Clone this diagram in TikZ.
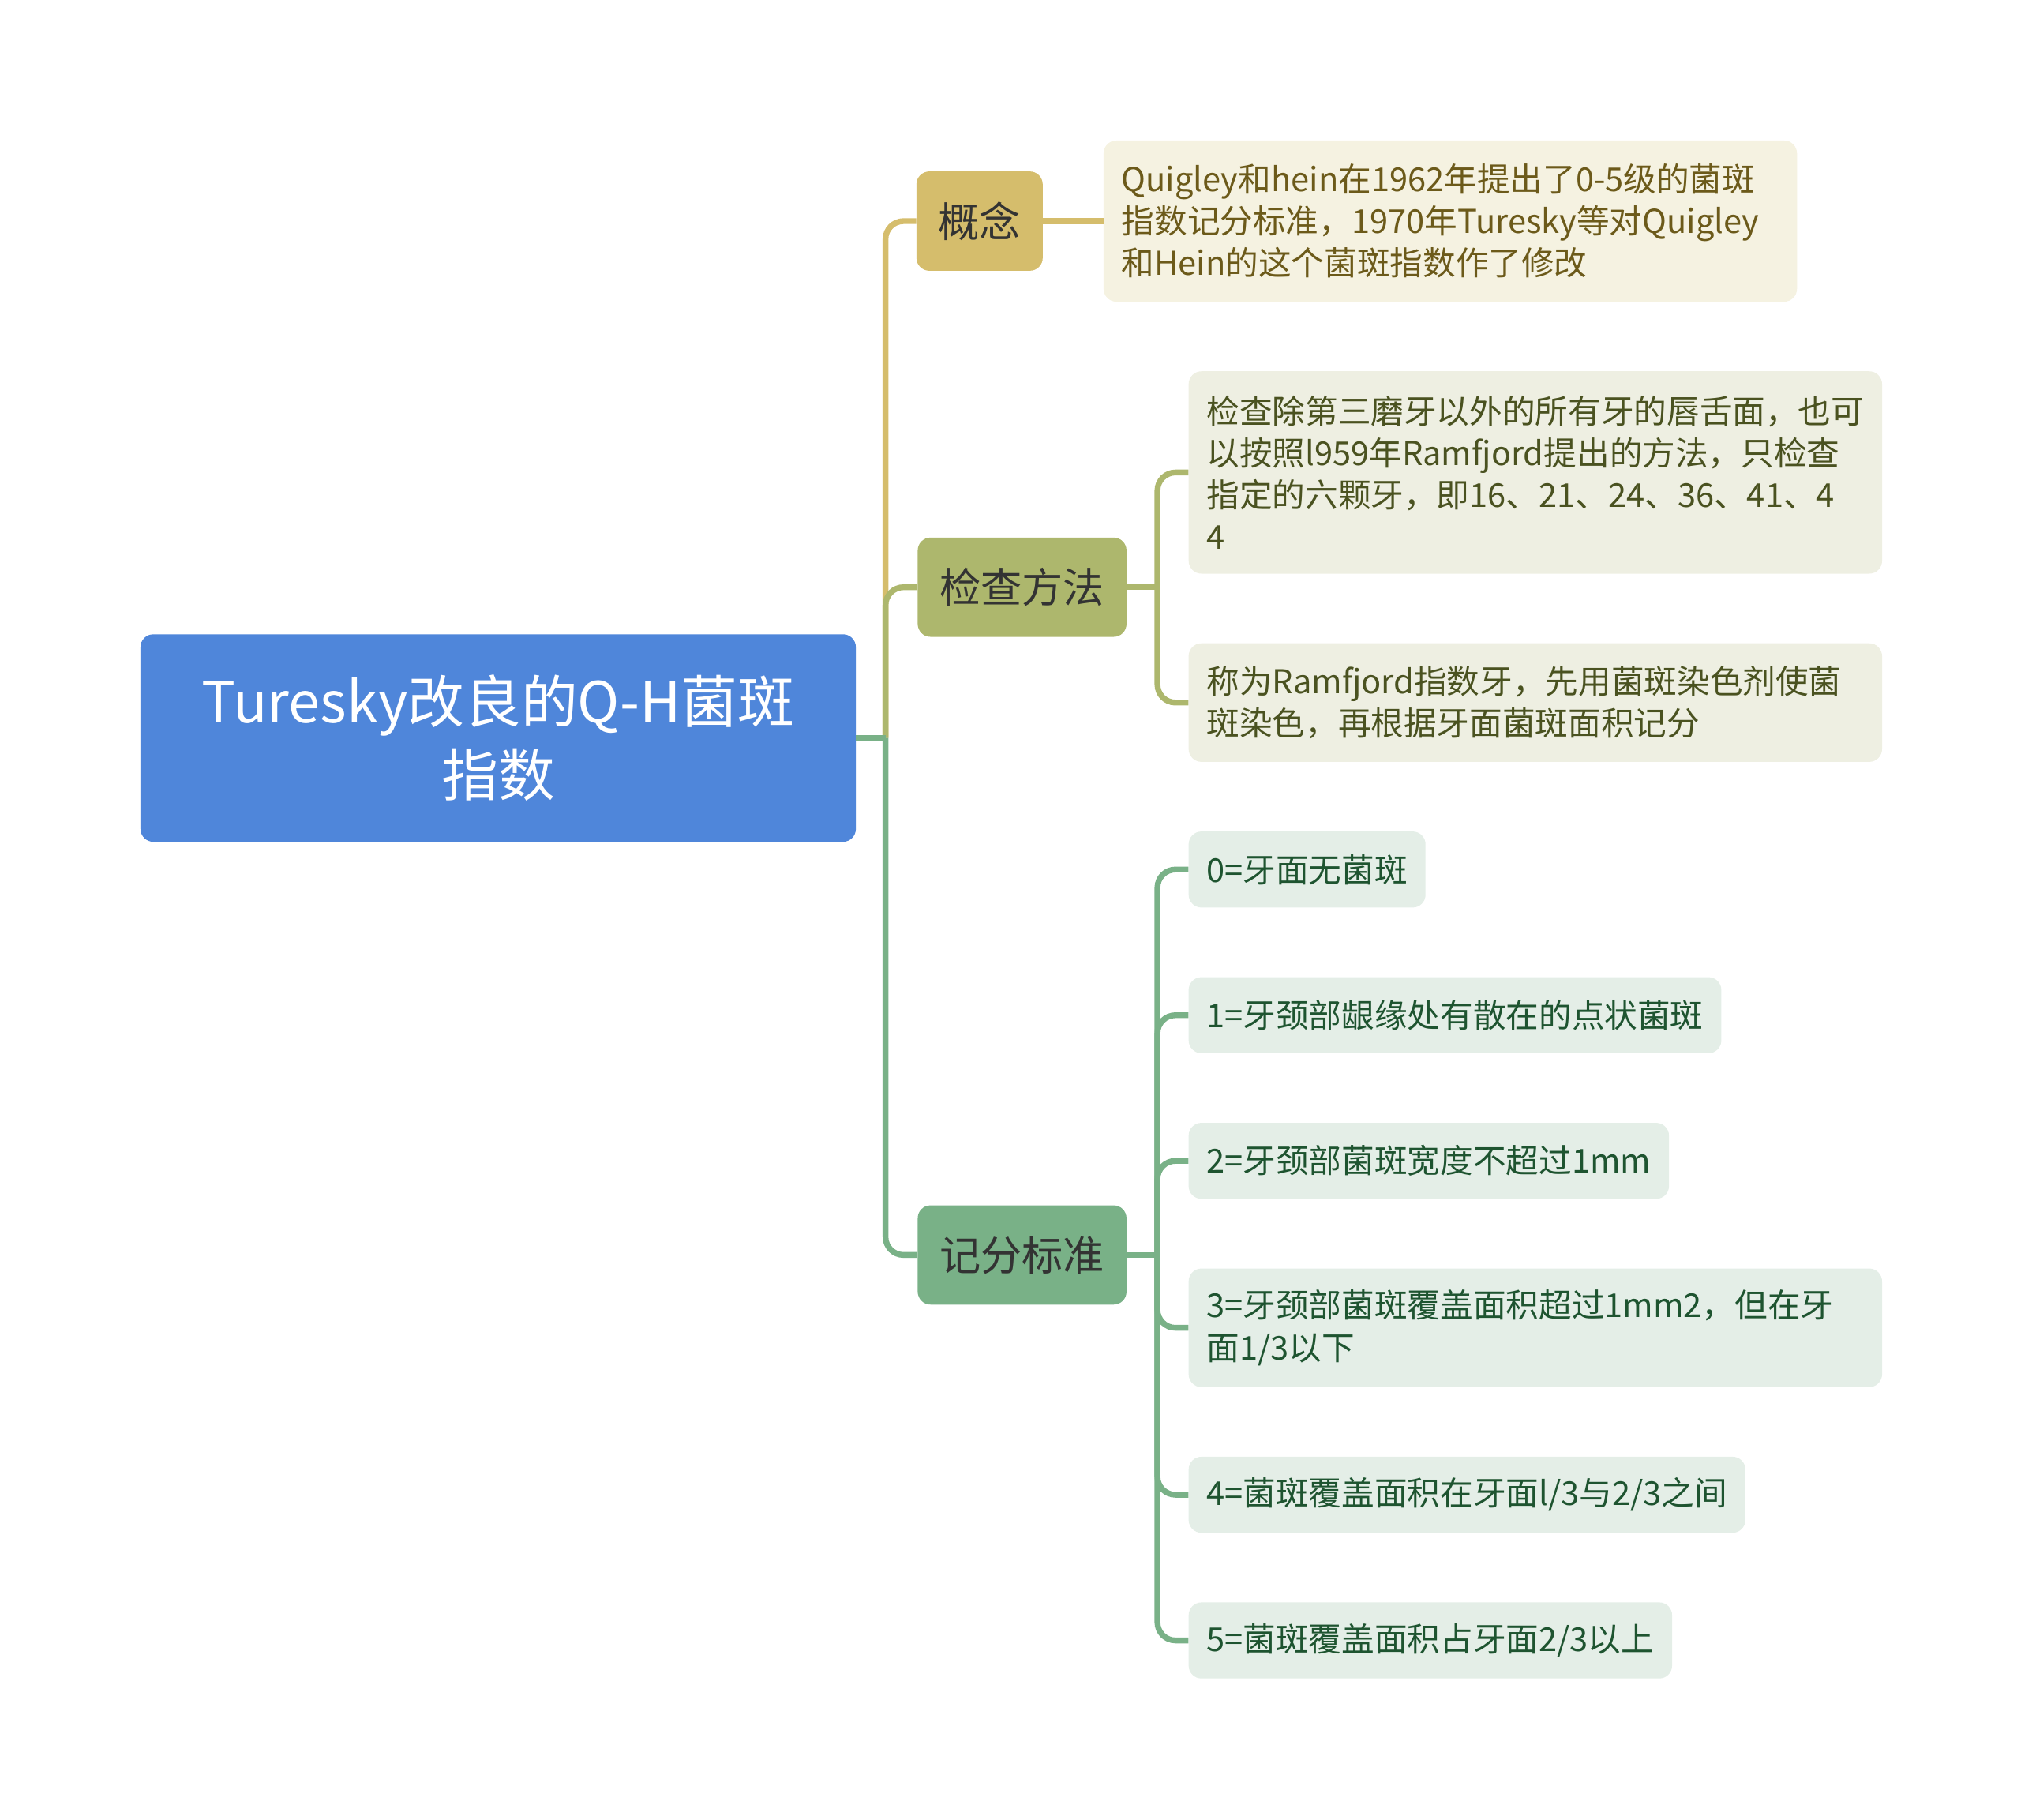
\documentclass[tikz,border=0pt]{standalone}
\usepackage{fontspec}
\setmainfont{Noto Sans CJK SC}
\usepackage{xcolor}
\usepackage{tikz}

\definecolor{rootblue}{HTML}{4F86DA}
\definecolor{goldline}{HTML}{D5BD6C}
\definecolor{oliveline}{HTML}{ADB76D}
\definecolor{greenline}{HTML}{79B187}
\definecolor{goldfill}{HTML}{F5F2E1}
\definecolor{olivefill}{HTML}{EEEFE2}
\definecolor{greenfill}{HTML}{E4EEE7}
\definecolor{goldtext}{HTML}{6C5A1A}
\definecolor{olivetext}{HTML}{4A5220}
\definecolor{greentext}{HTML}{1E5430}

\begin{document}
\begin{tikzpicture}[x=1pt,y=-1pt,
  rootbox/.style={fill=rootblue, text=white, rounded corners=10pt, align=center, inner sep=0pt,
    font=\fontsize{44}{57}\selectfont},
  topic/.style={fill=#1, text=black!80, rounded corners=10pt, inner xsep=17pt, inner ysep=0pt,
    minimum height=77, font=\fontsize{32}{40}\selectfont},
  leaf/.style={fill=#1, rounded corners=10pt, anchor=west, inner xsep=14pt, inner ysep=0pt,
    minimum height=59, font=\fontsize{25.5}{32.5}\selectfont},
  para/.style={text width=510pt, align=left},
  link/.style={line width=4.5pt, draw=#1},
  bend/.style={line width=4.5pt, draw=#1, rounded corners=14pt}]
\useasboundingbox (0,0) rectangle (1568,1411.2);

% main topic and branches
\node[rootbox, minimum width=555, minimum height=161] (Root) at (386.5,572.5) {Turesky改良的Q-H菌斑\\指数};
\node[topic=goldline] (Concept) at (760,171.5) {概念};
\node[topic=oliveline] (Method) at (793,455.5) {检查方法};
\node[topic=greenline] (Score) at (793,973.5) {记分标准};

% leaves
\node[leaf=goldfill, text=goldtext, para, minimum height=125] (ConceptText) at (856,171.5)
  {Quigley和hein在1962年提出了0-5级的菌斑\\指数记分标准，1970年Turesky等对Quigley\\和Hein的这个菌斑指数作了修改};
\node[leaf=olivefill, text=olivetext, para, minimum height=157] (MethodA) at (922,366.5)
  {检查除第三磨牙以外的所有牙的唇舌面，也可\\以按照l959年Ramfjord提出的方法，只检查\\指定的六颗牙，即16、21、24、36、41、4\\4};
\node[leaf=olivefill, text=olivetext, para, minimum height=92] (MethodB) at (922,545)
  {称为Ramfjord指数牙，先用菌斑染色剂使菌\\斑染色，再根据牙面菌斑面积记分};
\node[leaf=greenfill, text=greentext] (Score0) at (922,674.5) {0=牙面无菌斑};
\node[leaf=greenfill, text=greentext] (Score1) at (922,787.5) {1=牙颈部龈缘处有散在的点状菌斑};
\node[leaf=greenfill, text=greentext] (Score2) at (922,900.5) {2=牙颈部菌斑宽度不超过1mm};
\node[leaf=greenfill, text=greentext, para, minimum height=92] (Score3) at (922,1030)
  {3=牙颈部菌斑覆盖面积超过1mm2，但在牙\\面1/3以下};
\node[leaf=greenfill, text=greentext] (Score4) at (922,1159.5) {4=菌斑覆盖面积在牙面l/3与2/3之间};
\node[leaf=greenfill, text=greentext] (Score5) at (922,1272.5) {5=菌斑覆盖面积占牙面2/3以上};

% connectors
\coordinate (Trunk) at (687,572.5);
\coordinate (MethodFork) at (898,455.5);
\coordinate (ScoreFork) at (898,973.5);
\draw[bend=goldline] (Trunk) |- (Concept.west);
\draw[bend=oliveline] (Trunk) |- (Method.west);
\draw[bend=greenline] (Trunk) |- (Score.west);
\draw[link=greenline] (Root.east) -- (Trunk);
\draw[link=goldline] (Concept.east) -- (ConceptText.west);
\draw[link=oliveline] (Method.east) -- (MethodFork);
\foreach \n in {MethodA,MethodB}\draw[bend=oliveline] (MethodFork) |- (\n.west);
\draw[link=greenline] (Score.east) -- (ScoreFork);
\foreach \n in {Score0,Score1,Score2,Score3,Score4,Score5}\draw[bend=greenline] (ScoreFork) |- (\n.west);
\end{tikzpicture}
\end{document}
